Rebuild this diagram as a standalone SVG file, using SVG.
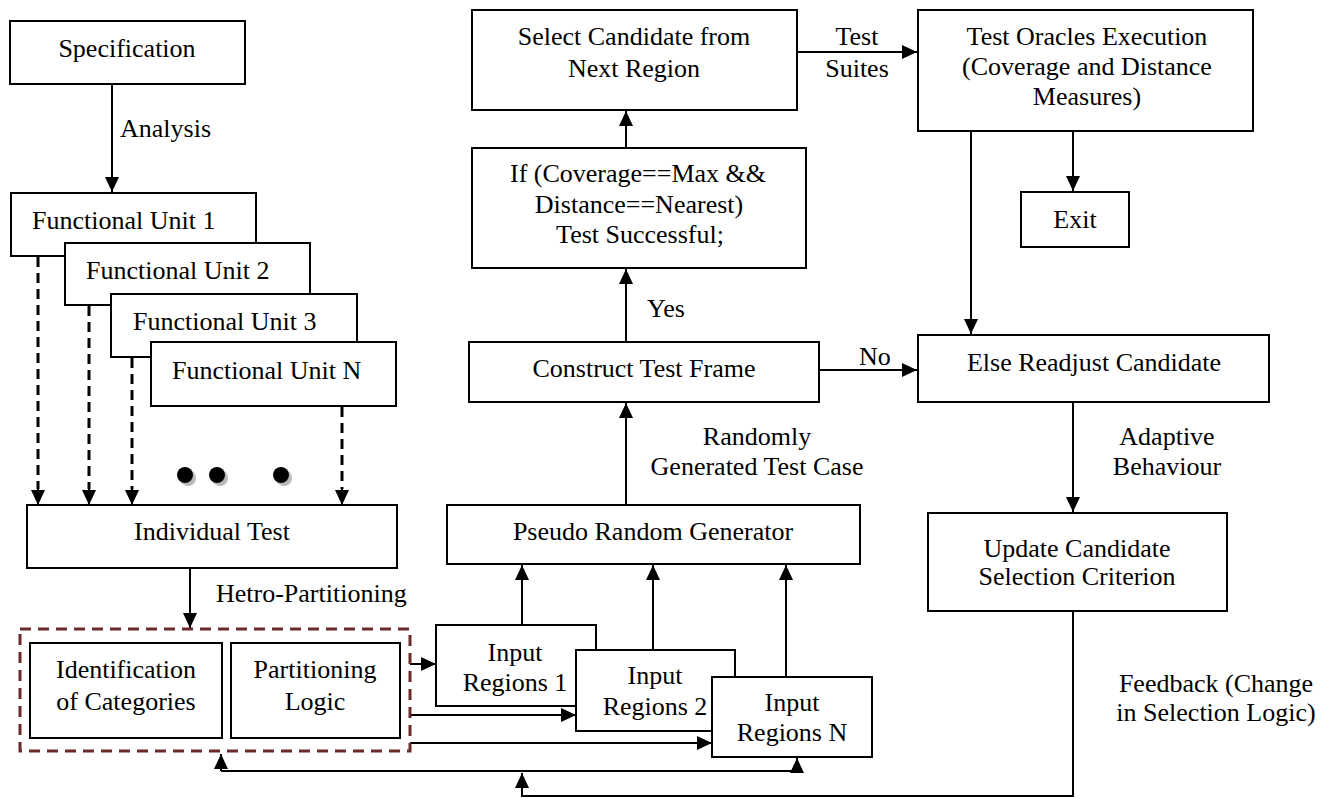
<svg xmlns="http://www.w3.org/2000/svg" width="1333" height="798" viewBox="0 0 1333 798">
<style>
.box{fill:#fff;stroke:#000;stroke-width:2}
.t{font-family:'Liberation Serif','DejaVu Serif',serif;font-size:26px;fill:#000}
.c{text-anchor:middle}
.ln{fill:none;stroke:#000;stroke-width:2}
.dl{fill:none;stroke:#000;stroke-width:3;stroke-dasharray:10,6}
</style>
<defs>
<marker id="ah" markerUnits="userSpaceOnUse" markerWidth="16" markerHeight="14" refX="15" refY="7" orient="auto">
<path d="M0,0 L15,7 L0,14 z" fill="#000"/>
</marker>
</defs>
<rect width="1333" height="798" fill="#fff"/>

<g id="connectors">
<line class="ln" x1="112" y1="84" x2="112" y2="192" marker-end="url(#ah)"/>
<line class="dl" x1="38" y1="257" x2="38" y2="489"/>
<line class="dl" x1="89" y1="306" x2="89" y2="489"/>
<line class="dl" x1="132" y1="358" x2="132" y2="489"/>
<line class="dl" x1="342" y1="407" x2="342" y2="489"/>
<line class="ln" x1="38" y1="488" x2="38" y2="505" marker-end="url(#ah)"/>
<line class="ln" x1="89" y1="488" x2="89" y2="505" marker-end="url(#ah)"/>
<line class="ln" x1="132" y1="488" x2="132" y2="505" marker-end="url(#ah)"/>
<line class="ln" x1="342" y1="488" x2="342" y2="505" marker-end="url(#ah)"/>
<line class="ln" x1="190" y1="568" x2="190" y2="628" marker-end="url(#ah)"/>
<line class="ln" x1="410" y1="664" x2="436" y2="664" marker-end="url(#ah)"/>
<line class="ln" x1="410" y1="715" x2="576" y2="715" marker-end="url(#ah)"/>
<line class="ln" x1="410" y1="743" x2="712" y2="743" marker-end="url(#ah)"/>
<line class="ln" x1="522" y1="625" x2="522" y2="565" marker-end="url(#ah)"/>
<line class="ln" x1="653" y1="650" x2="653" y2="565" marker-end="url(#ah)"/>
<line class="ln" x1="786" y1="677" x2="786" y2="565" marker-end="url(#ah)"/>
<line class="ln" x1="626" y1="505" x2="626" y2="403" marker-end="url(#ah)"/>
<line class="ln" x1="626" y1="342" x2="626" y2="269" marker-end="url(#ah)"/>
<line class="ln" x1="626" y1="148" x2="626" y2="111" marker-end="url(#ah)"/>
<line class="ln" x1="797" y1="52" x2="917" y2="52" marker-end="url(#ah)"/>
<line class="ln" x1="1073" y1="131" x2="1073" y2="191" marker-end="url(#ah)"/>
<line class="ln" x1="971" y1="131" x2="971" y2="334" marker-end="url(#ah)"/>
<line class="ln" x1="819" y1="370" x2="917" y2="370" marker-end="url(#ah)"/>
<line class="ln" x1="1073" y1="402" x2="1073" y2="512" marker-end="url(#ah)"/>
<polyline class="ln" points="1073,611 1073,796 522,796 522,773" marker-end="url(#ah)"/>
<line class="ln" x1="221" y1="771" x2="797" y2="771"/>
<line class="ln" x1="221" y1="771" x2="221" y2="754" marker-end="url(#ah)"/>
<line class="ln" x1="797" y1="771" x2="797" y2="758" marker-end="url(#ah)"/>
</g>

<g id="labels">
<text class="t" x="120" y="137">Analysis</text>
<text class="t" x="216" y="602">Hetro-Partitioning</text>
<text class="t" x="647" y="317">Yes</text>
<text class="t" x="859" y="365">No</text>
<text class="t c" x="857" y="45">Test</text>
<text class="t c" x="857" y="77">Suites</text>
<text class="t c" x="757" y="445">Randomly</text>
<text class="t c" x="757" y="475">Generated Test Case</text>
<text class="t c" x="1167" y="445">Adaptive</text>
<text class="t c" x="1167" y="475">Behaviour</text>
<text class="t c" x="1216" y="692">Feedback (Change</text>
<text class="t c" x="1216" y="721">in Selection Logic)</text>
</g>

<g id="spec"><rect class="box" x="10" y="21" width="235" height="63"/><text class="t c" x="127" y="57">Specification</text></g>
<g id="fu1"><rect class="box" x="11" y="193" width="245" height="63"/><text class="t" x="32" y="229">Functional Unit 1</text></g>
<g id="fu2"><rect class="box" x="65" y="243" width="245" height="62"/><text class="t" x="86" y="279">Functional Unit 2</text></g>
<g id="fu3"><rect class="box" x="111" y="294" width="246" height="63"/><text class="t" x="133" y="330">Functional Unit 3</text></g>
<g id="fun"><rect class="box" x="151" y="342" width="245" height="64"/><text class="t" x="172" y="379">Functional Unit N</text></g>
<g id="dots">
<circle cx="188" cy="478" r="8" fill="#bbb"/><circle cx="220" cy="478" r="8" fill="#bbb"/><circle cx="284" cy="478" r="8" fill="#bbb"/>
<circle cx="185" cy="475" r="8" fill="#000"/><circle cx="217" cy="475" r="8" fill="#000"/><circle cx="281" cy="475" r="8" fill="#000"/>
</g>
<g id="indtest"><rect class="box" x="27" y="505" width="370" height="63"/><text class="t c" x="212" y="540">Individual Test</text></g>
<g id="partgroup"><rect x="20" y="629" width="390" height="122" fill="none" stroke="#6b2a2a" stroke-width="3" stroke-dasharray="11,7"/></g>
<g id="ident"><rect class="box" x="30" y="643" width="192" height="95"/><text class="t c" x="126" y="678">Identification</text><text class="t c" x="126" y="710">of Categories</text></g>
<g id="plogic"><rect class="box" x="231" y="643" width="169" height="95"/><text class="t c" x="315" y="678">Partitioning</text><text class="t c" x="315" y="710">Logic</text></g>
<g id="ir1"><rect class="box" x="436" y="625" width="160" height="81"/><text class="t c" x="515" y="661">Input</text><text class="t c" x="515" y="691">Regions 1</text></g>
<g id="ir2"><rect class="box" x="576" y="650" width="159" height="81"/><text class="t c" x="655" y="684">Input</text><text class="t c" x="655" y="715">Regions 2</text></g>
<g id="irn"><rect class="box" x="712" y="677" width="160" height="80"/><text class="t c" x="792" y="711">Input</text><text class="t c" x="792" y="741">Regions N</text></g>
<g id="prg"><rect class="box" x="447" y="505" width="413" height="59"/><text class="t c" x="653" y="540">Pseudo Random Generator</text></g>
<g id="ctf"><rect class="box" x="469" y="342" width="350" height="60"/><text class="t c" x="644" y="377">Construct Test Frame</text></g>
<g id="ifbox"><rect class="box" x="472" y="148" width="334" height="120"/><text class="t c" x="638" y="182">If (Coverage==Max &amp;&amp;</text><text class="t c" x="639" y="213">Distance==Nearest)</text><text class="t c" x="640" y="243">Test Successful;</text></g>
<g id="select"><rect class="box" x="472" y="10" width="325" height="100"/><text class="t c" x="634" y="45">Select Candidate from</text><text class="t c" x="634" y="77">Next Region</text></g>
<g id="toe"><rect class="box" x="918" y="10" width="335" height="121"/><text class="t c" x="1087" y="45">Test Oracles Execution</text><text class="t c" x="1087" y="75">(Coverage and Distance</text><text class="t c" x="1087" y="105">Measures)</text></g>
<g id="exit"><rect class="box" x="1021" y="192" width="108" height="55"/><text class="t c" x="1075" y="228">Exit</text></g>
<g id="else"><rect class="box" x="918" y="335" width="351" height="67"/><text class="t c" x="1094" y="371">Else Readjust Candidate</text></g>
<g id="update"><rect class="box" x="928" y="513" width="299" height="98"/><text class="t c" x="1077" y="557">Update Candidate</text><text class="t c" x="1077" y="585">Selection Criterion</text></g>
</svg>
